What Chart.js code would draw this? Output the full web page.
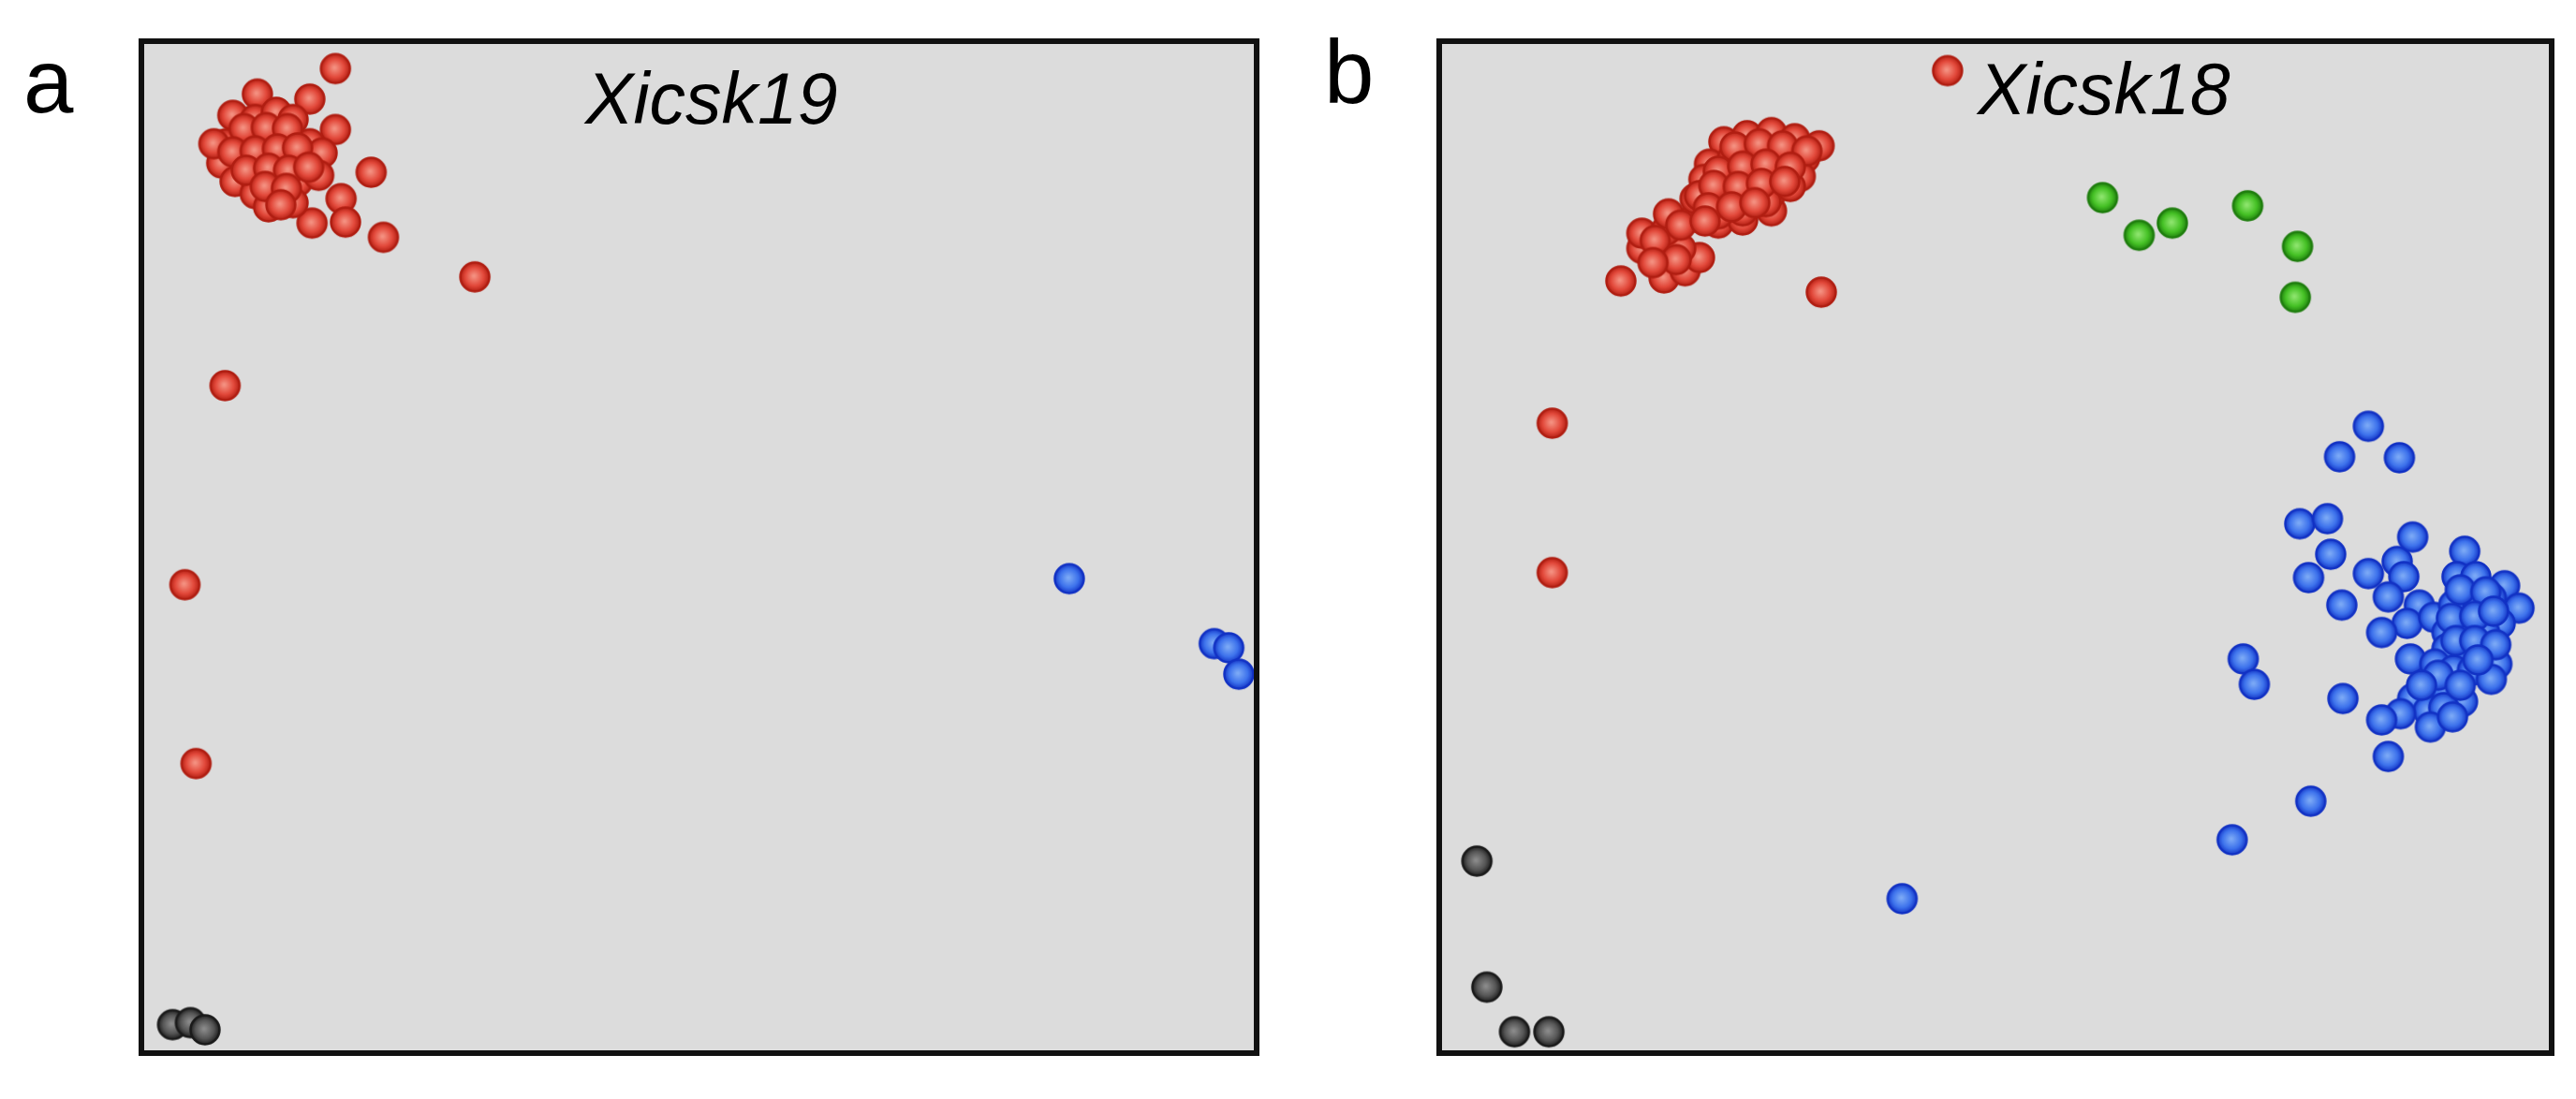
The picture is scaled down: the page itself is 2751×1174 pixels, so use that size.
<!DOCTYPE html>
<html>
<head>
<meta charset="utf-8">
<script src="https://cdn.jsdelivr.net/npm/chart.js@4.4.0/dist/chart.umd.min.js"></script>
<style>
  body { margin: 0; background: #fff; width: 2751px; height: 1174px; position: relative; overflow: hidden; }
  canvas { position: absolute; }
  .tag { position: absolute; font-family: "Liberation Sans", Arial, sans-serif; font-size: 96px; line-height: 1; color: #000; }
</style>
</head>
<body>
<div class="tag" style="left:25px; top:39px;">a</div>
<div class="tag" style="left:1414px; top:29px;">b</div>
<canvas id="chartA" width="1231" height="1121" style="left:131px; top:24px;"></canvas>
<canvas id="chartB" width="1228" height="1121" style="left:1517px; top:24px;"></canvas>
<script>
// panel titles
const titles = ["Xicsk19", "Xicsk18"];

// panel a : [x, y] in 0-100 plot units
const redA = [
  [17.2, 96.7], [10.2, 94.2], [14.9, 93.7], [17.2, 90.7], [20.4, 86.5], [17.7, 83.9],
  [18.1, 81.6], [15.1, 81.5], [21.5, 80.1], [29.7, 76.2],
  [8.0, 92.1], [10.0, 91.7], [11.9, 92.4], [13.4, 91.7], [7.4, 89.3], [9.3, 89.6],
  [11.2, 89.9], [13.0, 89.6], [14.9, 89.3], [7.0, 87.4], [8.9, 87.8], [10.8, 88.1],
  [12.7, 87.8], [14.5, 88.1], [16.0, 88.4], [8.2, 85.6], [10.0, 85.9], [11.9, 85.9],
  [13.8, 85.6], [15.7, 86.2], [10.0, 84.4], [11.9, 84.4], [13.4, 83.5], [11.2, 83.1],
  [6.3, 89.3], [9.0, 90.8], [11.0, 90.9], [12.9, 90.8], [8.0, 88.5], [10.0, 88.6],
  [12.0, 88.8], [13.8, 88.9], [9.2, 86.7], [11.2, 86.9], [13.0, 86.7], [14.8, 87.0],
  [10.9, 85.1], [12.8, 84.9], [12.3, 83.3],
  [7.3, 65.5], [3.7, 45.9], [4.7, 28.3]
];
const blueA = [[83.0, 46.5], [96.0, 40.1], [97.3, 39.7], [98.2, 37.1]];
const blackA = [[2.6, 2.6], [4.2, 2.8], [5.5, 2.1]];

// panel b
const redB = [
  [45.7, 96.5], [10.0, 61.8], [10.0, 47.1], [34.3, 74.7],
  [16.2, 75.8], [20.1, 76.1], [18.1, 79.0], [22.0, 76.8], [23.3, 78.1], [21.6, 79.0],
  [18.1, 80.5], [20.3, 80.8], [20.5, 82.4], [22.9, 82.1], [25.0, 81.5], [27.2, 81.8],
  [29.8, 82.7], [22.9, 83.9], [25.0, 83.3], [25.5, 89.5], [27.6, 90.1], [29.8, 90.4],
  [31.9, 89.8], [34.1, 89.1], [24.2, 87.3], [26.3, 87.9], [28.5, 88.2], [30.6, 88.2],
  [32.8, 87.9], [23.7, 85.8], [25.9, 85.8], [28.1, 86.4], [30.2, 86.4], [32.4, 86.1],
  [23.3, 84.2], [25.5, 84.5], [27.6, 84.5], [29.8, 84.5], [31.5, 85.1], [27.2, 82.7],
  [29.3, 83.6], [25.0, 82.4], [26.5, 89.0], [28.7, 89.3], [30.8, 89.1], [33.0, 88.6],
  [25.0, 86.6], [27.2, 87.1], [29.3, 87.3], [31.5, 87.0], [24.6, 85.2], [26.8, 85.1],
  [28.9, 85.4], [31.0, 85.6], [24.1, 83.0], [26.2, 83.1], [28.3, 83.5], [21.6, 81.3],
  [23.8, 81.7], [19.3, 79.8], [21.2, 77.9], [19.1, 77.6]
];
const greenB = [[59.7, 84.0], [63.0, 80.3], [66.0, 81.5], [72.8, 83.2], [77.3, 79.2], [77.1, 74.2]];
const blackB = [[3.2, 18.7], [4.1, 6.3], [6.6, 1.9], [9.7, 1.9]];
const blueB = [
  [83.7, 61.5], [81.1, 58.5], [86.5, 58.4], [77.5, 51.9], [80.0, 52.4], [80.3, 48.9],
  [78.3, 46.6], [81.3, 43.9], [83.7, 47.0], [86.3, 48.2], [87.7, 50.6], [86.9, 46.7],
  [85.5, 44.7], [88.3, 43.9], [87.2, 42.1], [84.9, 41.2], [89.6, 42.7], [92.4, 49.2],
  [91.7, 46.7], [93.4, 46.7], [96.0, 45.8], [97.3, 43.6], [91.4, 43.9], [93.6, 43.9],
  [94.8, 44.6], [95.6, 42.1], [90.8, 41.2], [92.5, 42.1], [94.2, 41.2], [90.8, 39.6],
  [92.5, 39.6], [94.2, 39.6], [95.3, 38.1], [87.5, 38.6], [89.7, 38.1], [91.4, 37.5],
  [93.1, 37.5], [94.8, 36.6], [90.5, 35.9], [92.2, 34.4], [87.7, 34.7], [89.1, 33.5],
  [90.5, 33.8], [86.6, 33.2], [84.9, 32.6], [89.3, 31.9], [81.4, 34.7], [72.4, 38.6],
  [73.4, 36.1], [85.5, 29.0], [78.5, 24.6], [71.4, 20.8], [41.6, 15.0],
  [92.0, 45.4], [94.3, 45.2], [91.2, 42.6], [93.3, 42.8], [95.0, 43.3], [91.6, 40.4],
  [93.3, 40.4], [95.2, 40.0], [90.0, 37.0], [92.0, 36.0], [93.6, 38.5], [88.5, 36.0],
  [91.3, 32.9]
];

// shaded dot sprite used as point style
function makeDot(inner, mid, edge) {
  const c = document.createElement("canvas");
  c.width = 36;
  c.height = 36;
  const g = c.getContext("2d");
  const grad = g.createRadialGradient(17, 17, 1, 18, 18, 16);
  grad.addColorStop(0, inner);
  grad.addColorStop(0.6, mid);
  grad.addColorStop(1, edge);
  g.beginPath();
  g.arc(18, 18, 15.5, 0, 2 * Math.PI);
  g.fillStyle = grad;
  g.fill();
  g.lineWidth = 2.5;
  g.strokeStyle = edge;
  g.stroke();
  return c;
}

const redDot = makeDot("#f49080", "#e2483a", "#b01e12");
const blueDot = makeDot("#7aa8f6", "#3d72ec", "#1232c4");
const greenDot = makeDot("#8ce46c", "#45c125", "#1f7e0e");
const blackDot = makeDot("#8a8a8a", "#555555", "#1a1a1a");

// grey panel, black frame and italic title
const panelBox = {
  id: "panelBox",
  beforeDatasetsDraw(chart) {
    const a = chart.chartArea;
    const ctx = chart.ctx;
    ctx.save();
    ctx.fillStyle = "#dcdcdc";
    ctx.fillRect(a.left, a.top, a.right - a.left, a.bottom - a.top);
    ctx.restore();
  },
  afterDatasetsDraw(chart, args, opts) {
    const a = chart.chartArea;
    const ctx = chart.ctx;
    ctx.save();
    ctx.lineWidth = 6;
    ctx.strokeStyle = "#111";
    ctx.strokeRect(a.left, a.top, a.right - a.left, a.bottom - a.top);
    ctx.fillStyle = "#000";
    ctx.font = 'italic 77px "Liberation Sans", Arial, sans-serif';
    ctx.textBaseline = "alphabetic";
    ctx.fillText(opts.text, a.left + opts.x * (a.right - a.left), a.top + opts.y * (a.bottom - a.top));
    ctx.restore();
  }
};

function pts(list) {
  return list.map((p) => ({ x: p[0], y: p[1] }));
}

function makePanel(id, sets, title, tx, ty, xMax) {
  new Chart(document.getElementById(id).getContext("2d"), {
    type: "scatter",
    data: {
      datasets: sets.map((s) => ({
        data: pts(s[0]),
        pointStyle: s[1],
        pointRadius: 16,
        clip: false
      }))
    },
    options: {
      responsive: false,
      animation: false,
      events: [],
      layout: { padding: 20 },
      scales: {
        x: { display: false, min: -0.2, max: xMax },
        y: { display: false, min: -0.2, max: 99.4 }
      },
      plugins: {
        legend: { display: false },
        tooltip: { enabled: false },
        panelBox: { text: title, x: tx, y: ty }
      }
    },
    plugins: [panelBox]
  });
}

makePanel("chartA", [[blackA, blackDot], [blueA, blueDot], [redA, redDot]], titles[0], 0.398, 0.0814, 99.8);
makePanel("chartB", [[blackB, blackDot], [greenB, greenDot], [blueB, blueDot], [redB, redDot]], titles[1], 0.484, 0.072, 100.25);
</script>
</body>
</html>
